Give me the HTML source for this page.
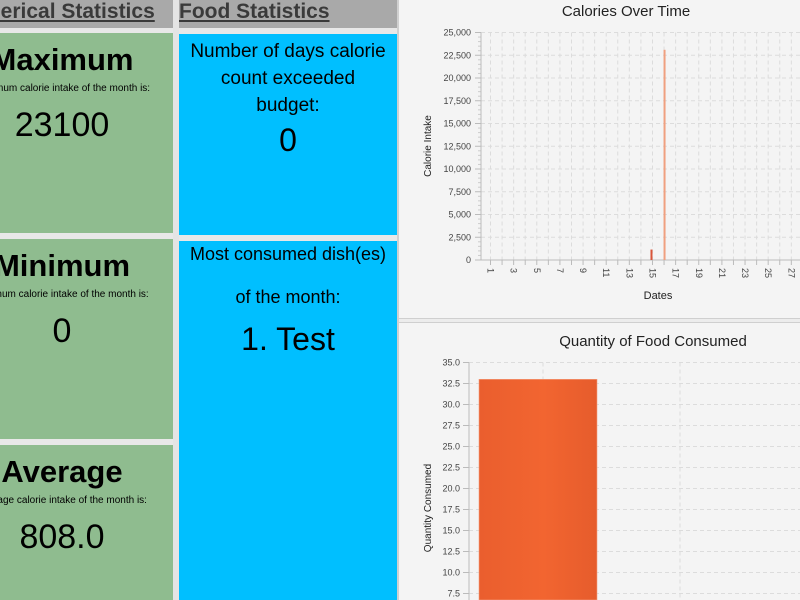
<!DOCTYPE html>
<html><head><meta charset="utf-8"><style>
body{margin:0;width:800px;height:600px;overflow:hidden;background:#e8e8e8;font-family:"Liberation Sans",sans-serif;position:relative}
div{position:absolute}
.c{white-space:nowrap;text-align:center;transform:translateX(-50%)}
.hdr{font-weight:bold;font-size:21px;color:#3a3a3a;text-decoration:underline;top:0}
#leftclip{left:0;top:0;width:173px;height:600px;overflow:hidden}
</style></head><body>
<div style="left:0;top:0;width:397px;height:28px;background:#a9a9a9"></div>
<div class="hdr" style="left:179px;">Food Statistics</div>
<div style="left:173px;top:0;width:6px;height:600px;background:#e4e4e4"></div>

<div id="leftclip">
<div class="hdr" style="left:-46px;top:0;">Numerical Statistics</div>
<div style="left:0;top:33px;width:173px;height:200px;background:#8fbc8f"></div>
<div style="left:0;top:239px;width:173px;height:200px;background:#8fbc8f"></div>
<div style="left:0;top:445px;width:173px;height:155px;background:#8fbc8f"></div>

<div class="c" style="left:62px;top:42px;font-size:31px;font-weight:bold">Maximum</div>
<div class="c" style="left:62px;top:83px;font-size:10px">Maximum calorie intake of the month is:</div>
<div class="c" style="left:62px;top:106px;font-size:34px">23100</div>

<div class="c" style="left:62px;top:248px;font-size:31px;font-weight:bold">Minimum</div>
<div class="c" style="left:62px;top:289px;font-size:10px">Minimum calorie intake of the month is:</div>
<div class="c" style="left:62px;top:312px;font-size:34px">0</div>

<div class="c" style="left:62px;top:454px;font-size:31px;font-weight:bold">Average</div>
<div class="c" style="left:62px;top:495px;font-size:10px">Average calorie intake of the month is:</div>
<div class="c" style="left:62px;top:518px;font-size:34px">808.0</div>
</div>

<div style="left:179px;top:34px;width:218px;height:201px;background:#00bfff"></div>
<div style="left:179px;top:241px;width:218px;height:359px;background:#00bfff"></div>
<div class="c" style="left:288px;top:38px;font-size:19px;line-height:27px;white-space:normal;width:200px">Number of days calorie count exceeded budget:</div>
<div class="c" style="left:288px;top:122px;font-size:32px">0</div>
<div class="c" style="left:288px;top:244px;font-size:18px">Most consumed dish(es)</div>
<div class="c" style="left:288px;top:287px;font-size:18px">of the month:</div>
<div class="c" style="left:288px;top:321px;font-size:32px">1. Test</div>

<div style="left:397px;top:0;width:401px;height:600px;background:#f4f4f4;border-left:2px solid #d0d0d0"></div>
<div style="left:399px;top:318px;width:401px;height:3px;background:#ececec;border-top:1px solid #cfcfcf;border-bottom:1px solid #cfcfcf"></div>

<svg width="800" height="600" style="position:absolute;left:0;top:0" font-family="Liberation Sans, sans-serif">
<g id="c1"></g><g id="c2"></g>
</svg>
<script>
const days=[1,2,3,4,5,6,7,8,9,10,11,12,13,14,15,16,17,18,19,20,21,22,23,24,25,26,27,28];
const calories=[0,0,0,0,0,0,0,0,0,0,0,0,0,0,1150,23100,0,0,0,0,0,0,0,0,0,0,0,0];
const calTicks=[0,2500,5000,7500,10000,12500,15000,17500,20000,22500,25000];
const foods=["Test"];
const quantities=[33];
const qtyTicks=[7.5,10,12.5,15,17.5,20,22.5,25,27.5,30,32.5,35];
const NS="http://www.w3.org/2000/svg";
function el(p,t,a,txt){const e=document.createElementNS(NS,t);for(const k in a)e.setAttribute(k,a[k]);if(txt!==undefined)e.textContent=txt;p.appendChild(e);return e;}
// Chart 1
const g1=document.getElementById('c1');
const x0=481,x1=800,yTop=32.5,yBot=260;
const yS=v=>yBot-(v/25000)*(yBot-yTop);
const xS=d=>490.5+(d-1)*11.57;
let t=el(g1,'text',{x:626,y:16,'font-size':15,'text-anchor':'middle',fill:'#222'},'Calories Over Time');

calTicks.forEach(v=>{const y=yS(v);
 let l=el(g1,'line',{x1:x0,x2:x1,y1:y,y2:y,stroke:'#dcdcdc','stroke-dasharray':'4,3'});
 
 let tx=el(g1,'text',{x:x0-10,y:y+3,'font-size':9,'text-anchor':'end',fill:'#444'},v.toLocaleString('en-US'));
 
 el(g1,'line',{x1:x0-6,x2:x0,y1:y,y2:y,stroke:'#bbb'});
 if(v<25000)for(let i=1;i<5;i++){const ym=yS(v+i*500);el(g1,'line',{x1:x0-3,x2:x0,y1:ym,y2:ym,stroke:'#ccc'});}
});
days.forEach((d,i)=>{const x=xS(d);
 let l=el(g1,'line',{x1:x,x2:x,y1:yTop,y2:yBot,stroke:'#dcdcdc','stroke-dasharray':'4,3'});
 
 el(g1,'line',{x1:x,x2:x,y1:yBot,y2:yBot+5,stroke:'#bbb'});
 if(d%2===1){let tx=el(g1,'text',{x:x-3,y:yBot+8,'font-size':9,fill:'#444',transform:`rotate(90 ${x-3} ${yBot+8})`},String(d));
 }
});
el(g1,'line',{x1:x0,x2:x0,y1:yTop,y2:yBot,stroke:'#bbb'});
el(g1,'line',{x1:x0,x2:x1,y1:yBot,y2:yBot,stroke:'#bbb'});
calories.forEach((v,i)=>{if(v<=0)return;const x=xS(days[i])+(v>5000?0.5:-1);
 let r=el(g1,'rect',{x:x-1,y:yS(v),width:2,height:yBot-yS(v),fill:v>5000?'#f0a080':'#d9553a'});
 });
t=el(g1,'text',{x:658,y:299,'font-size':11,'text-anchor':'middle',fill:'#222'},'Dates');

t=el(g1,'text',{x:431,y:146,'font-size':10,'text-anchor':'middle',fill:'#222',transform:'rotate(-90 431 146)'},'Calorie Intake');

// Chart 2
const g2=document.getElementById('c2');
const ax=469,qTop=362.5,perUnit=21/2.5;
const qS=v=>qTop+(35-v)*perUnit;
t=el(g2,'text',{x:653,y:346,'font-size':15,'text-anchor':'middle',fill:'#222'},'Quantity of Food Consumed');

qtyTicks.forEach(v=>{const y=qS(v);
 let l=el(g2,'line',{x1:ax,x2:800,y1:y,y2:y,stroke:'#dcdcdc','stroke-dasharray':'4,3'});
 
 el(g2,'line',{x1:ax-6,x2:ax,y1:y,y2:y,stroke:'#bbb'});
 let tx=el(g2,'text',{x:ax-9,y:y+3,'font-size':9,'text-anchor':'end',fill:'#444'},v.toFixed(1));
 
});
[543,680].forEach(x=>el(g2,'line',{x1:x,x2:x,y1:qTop,y2:600,stroke:'#dcdcdc','stroke-dasharray':'4,3'}));
el(g2,'line',{x1:ax,x2:ax,y1:qTop,y2:600,stroke:'#bbb'});
const defs=el(g2,'defs',{});const gr=el(defs,'linearGradient',{id:'bg',x1:0,x2:1,y1:0,y2:0});
el(gr,'stop',{offset:'0','stop-color':'#ea5e2e'});el(gr,'stop',{offset:'0.55','stop-color':'#f26530'});el(gr,'stop',{offset:'1','stop-color':'#e65c2c'});
quantities.forEach((v,i)=>{const bx=479+i*137;
 let r=el(g2,'rect',{x:bx,y:qS(v),width:118,height:600-qS(v),fill:'url(#bg)',stroke:'#f4a080','stroke-width':0.6});
 });
t=el(g2,'text',{x:431,y:508,'font-size':10,'text-anchor':'middle',fill:'#222',transform:'rotate(-90 431 508)'},'Quantity Consumed');

</script>
</body></html>
